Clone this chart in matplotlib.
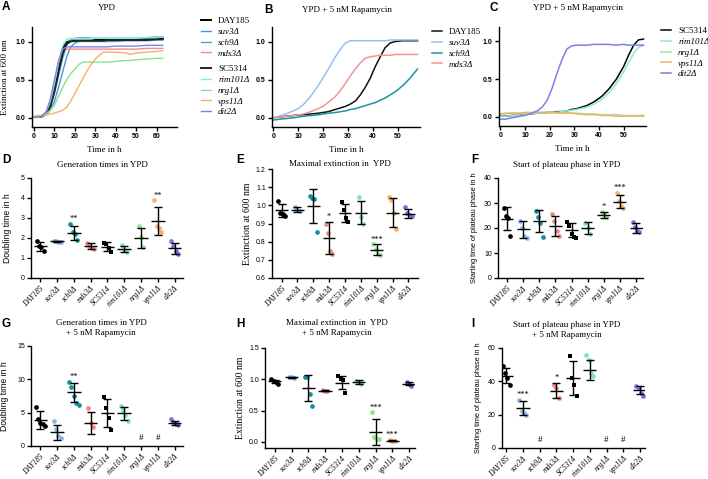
import matplotlib.pyplot as plt
import numpy as np
import matplotlib.transforms as mtransforms

W, H = 708, 479
SERIF = 'Liberation Serif'
SANS = 'Liberation Sans'

strains = ['DAY185', 'suv3Δ', 'sch9Δ', 'mds3Δ', 'SC5314', 'rim101Δ', 'nrg1Δ', 'vps11Δ', 'dit2Δ']
wild_types = ['DAY185', 'SC5314']

# ---- growth curves (optical density at 600 nm) ----
time_a = [0, 2, 4, 6, 8, 10, 12, 14, 16, 18, 20, 22, 24, 26, 28, 30, 32, 34, 36, 40, 45, 47, 50, 55, 60, 63]
a_day185 = [.01, .01, .02, .07, .20, .42, .68, .90, .99, 1.01, 1.01, 1.01, 1.01, 1.01, 1.01, 1.02, 1.02, 1.02, 1.02, 1.02, 1.02, 1.02, 1.02, 1.03, 1.03, 1.04]
a_suv3 = [.01, .01, .02, .04, .10, .22, .40, .60, .80, .93, .98, 1.00, 1.00, 1.00, 1.00, 1.00, 1.00, 1.00, 1.00, 1.00, 1.01, 1.01, 1.01, 1.01, 1.02, 1.02]
a_sch9 = [.01, .01, .02, .05, .15, .32, .55, .78, .95, 1.02, 1.04, 1.05, 1.05, 1.05, 1.05, 1.05, 1.05, 1.05, 1.05, 1.05, 1.05, 1.05, 1.05, 1.05, 1.06, 1.06]
a_mds3 = [.01, .01, .02, .07, .20, .45, .72, .87, .90, .90, .90, .90, .90, .90, .90, .90, .90, .90, .90, .90, .90, .90, .90, .91, .91, .91]
a_sc5314 = [.01, .01, .02, .05, .15, .35, .60, .84, .97, 1.00, 1.01, 1.01, 1.01, 1.01, 1.01, 1.01, 1.01, 1.01, 1.02, 1.02, 1.02, 1.02, 1.02, 1.02, 1.03, 1.03]
a_rim101 = [.01, .01, .02, .08, .22, .45, .72, .95, 1.03, 1.04, 1.04, 1.04, 1.04, 1.04, 1.05, 1.05, 1.05, 1.05, 1.05, 1.05, 1.05, 1.05, 1.05, 1.05, 1.05, 1.06]
a_nrg1 = [.01, .01, .03, .05, .10, .17, .28, .40, .50, .58, .64, .70, .73, .73, .73, .73, .73, .73, .73, .74, .75, .75, .76, .77, .78, .78]
a_vps11 = [.02, .03, .03, .04, .05, .06, .08, .10, .14, .22, .32, .42, .52, .62, .70, .77, .82, .86, .86, .86, .85, .83, .85, .86, .87, .88]
a_dit2 = [.01, .01, .03, .08, .25, .50, .75, .90, .93, .93, .93, .93, .93, .93, .93, .93, .93, .93, .93, .94, .94, .94, .94, .95, .95, .95]

time_b = [0, 2, 5, 8, 10, 12, 15, 18, 20, 22, 25, 27, 29, 31, 33, 35, 37, 39, 41, 43, 45, 47, 49, 52, 55, 58]
b_day185 = [.00, .01, .02, .03, .04, .04, .05, .06, .07, .08, .11, .13, .15, .18, .22, .30, .40, .52, .67, .80, .92, .98, 1.00, 1.01, 1.01, 1.01]
b_suv3 = [.00, .02, .05, .09, .12, .17, .28, .42, .52, .63, .80, .90, .98, 1.01, 1.01, 1.01, 1.01, 1.01, 1.01, 1.01, 1.01, 1.02, 1.02, 1.02, 1.02, 1.02]
b_sch9 = [-.03, -.02, -.01, .00, .01, .02, .03, .04, .05, .06, .07, .08, .09, .11, .12, .14, .16, .18, .20, .23, .26, .30, .34, .42, .52, .64]
b_mds3 = [.00, .01, .02, .03, .04, .05, .08, .12, .15, .20, .28, .36, .45, .55, .64, .72, .78, .80, .81, .82, .82, .82, .83, .83, .83, .83]

time_c = [0, 2, 5, 8, 10, 12, 15, 17, 19, 21, 23, 25, 27, 29, 31, 35, 38, 41, 44, 47, 50, 52, 54, 56, 58]
c_sc5314 = [.01, .01, .02, .02, .03, .04, .05, .05, .06, .06, .07, .07, .08, .10, .11, .15, .20, .27, .37, .50, .67, .82, .95, 1.02, 1.03]
c_rim101 = [.01, .01, .02, .02, .03, .04, .05, .05, .06, .06, .06, .07, .08, .09, .10, .13, .17, .23, .32, .44, .60, .72, .84, .92, .95]
c_nrg1 = [.04, .04, .05, .05, .05, .05, .06, .06, .06, .06, .06, .06, .05, .05, .05, .04, .04, .03, .03, .03, .02, .02, .02, .02, .02]
c_vps11 = [.04, .05, .05, .05, .06, .06, .06, .06, .06, .06, .05, .05, .05, .05, .04, .03, .03, .02, .02, .01, .01, .01, .01, .01, .01]
c_dit2 = [-.03, -.03, -.01, .01, .02, .04, .08, .13, .22, .38, .58, .76, .90, .94, .95, .95, .96, .96, .96, .95, .96, .95, .95, .95, .95]

# ---- scatter panels: replicate values, mean, SD, significance ----
d_points = [[1.87, 1.6, 1.55, 1.33], [1.85, 1.83, 1.82, 1.8], [2.7, 2.3, 2.2, 1.9], [1.75, 1.6, 1.5, 1.45],
            [1.75, 1.7, 1.5, 1.3], [1.65, 1.42, 1.3], [2.6, 2.05, 1.55], [3.88, 2.6, 2.5, 2.3], [1.85, 1.6, 1.35, 1.2]]
d_mean = [1.59, 1.83, 2.25, 1.58, 1.57, 1.43, 2.0, 2.83, 1.48]
d_sd = [0.23, 0.03, 0.33, 0.15, 0.22, 0.15, 0.52, 0.7, 0.28]
d_sig = ['', '', '**', '', '', '', '', '**', '']

e_points = [[1.025, 0.96, 0.95, 0.94], [0.99, 0.975, 0.97], [1.05, 1.04, 1.035, 0.855], [0.9, 0.85, 0.75, 0.73],
            [1.02, 0.975, 0.93, 0.91], [1.045, 0.935, 0.9], [0.785, 0.76, 0.73, 0.725], [1.045, 1.03, 0.96, 0.87], [0.99, 0.96, 0.945, 0.94]]
e_mean = [0.972, 0.977, 0.995, 0.82, 0.96, 0.96, 0.755, 0.96, 0.955]
e_sd = [0.035, 0.012, 0.094, 0.09, 0.05, 0.063, 0.03, 0.08, 0.025]
e_sig = ['', '', '', '*', '', '', '***', '', '']

f_points = [[28, 25, 24, 17], [23, 20, 17, 16], [27, 24.5, 22, 16.5], [25.5, 23, 19, 17],
            [22.5, 21, 17.5, 16.5, 16], [22, 20, 17.5], [26.5, 25.5, 24.5], [34, 31, 29, 28], [22.5, 20.5, 19, 18.5]]
f_mean = [23.8, 19.5, 22.7, 21.0, 19.3, 20.0, 25.3, 30.6, 20.0]
f_sd = [4.6, 3.5, 4.4, 4.0, 2.8, 2.3, 1.3, 2.5, 2.0]
f_sig = ['', '', '', '', '', '', '*', '***', '']

g_points = [[5.8, 4.0, 3.5, 3.3, 3.0], [3.8, 2.5, 1.5, 1.2], [9.6, 8.9, 7.5, 6.4, 6.2], [5.7, 3.5, 2.8],
            [7.4, 5.7, 4.2, 2.4], [6.0, 5.4, 4.6, 3.7], [], [], [4.0, 3.6, 3.3, 3.1]]
g_mean = [3.9, 2.05, 8.05, 3.5, 5.0, 4.9, None, None, 3.45]
g_sd = [1.3, 1.1, 1.45, 1.65, 2.1, 0.95, None, None, 0.3]
g_sig = ['', '', '**', '', '', '', '#', '#', '']

h_points = [[1.0, 0.97, 0.95, 0.93], [1.035, 1.03, 1.025], [1.04, 1.03, 0.77, 0.58], [0.83, 0.82, 0.81],
            [1.05, 1.0, 0.99, 0.78], [0.98, 0.96, 0.93], [0.47, 0.08, 0.05, 0.04], [0.03, 0.02, 0.01], [0.96, 0.93, 0.9]]
h_mean = [0.965, 1.03, 0.86, 0.82, 0.945, 0.955, 0.16, 0.02, 0.93]
h_sd = [0.03, 0.008, 0.21, 0.015, 0.1, 0.03, 0.21, 0.01, 0.025]
h_sig = ['', '', '', '', '', '', '***', '***', '']

i_points = [[49, 45, 42, 38], [29, 22, 21, 20], [], [38, 36, 30], [55, 42, 38, 31], [56, 53, 45, 43], [], [], [37, 36, 33, 31]]
i_mean = [43.5, 24.0, None, 34.5, 42.0, 47.0, None, None, 35.0]
i_sd = [4.5, 4.0, None, 4.5, 10.0, 6.0, None, None, 2.5]
i_sig = ['', '***', '#', '*', '', '', '#', '#', '']

dot_colors = {'DAY185': '#000000', 'suv3Δ': '#8cb6ea', 'sch9Δ': '#14909f', 'mds3Δ': '#ee8a8a', 'SC5314': '#000000',
              'rim101Δ': '#7fe3c6', 'nrg1Δ': '#8ee68e', 'vps11Δ': '#f6b266', 'dit2Δ': '#7474dc'}


fig = plt.figure(figsize=(W / 100, H / 100), dpi=100)


def px_axes(x0, y0, x1, y1):
    return fig.add_axes([x0 / W, 1 - y1 / H, (x1 - x0) / W, (y1 - y0) / H])


def px_text(x, y, s, **kw):
    fig.text(x / W, 1 - y / H, s, **kw)


def style_axes(ax, bold_ticks):
    for side in ['top', 'right']:
        ax.spines[side].set_visible(False)
    for side in ['left', 'bottom']:
        ax.spines[side].set_linewidth(1.0)
    ax.tick_params(length=3, width=1.0, pad=1.5, labelsize=5)
    for lab in ax.get_yticklabels() + ax.get_xticklabels():
        lab.set_family(SANS)
        if bold_ticks:
            lab.set_fontweight('bold')


def curve_panel(ax, xlim, xticks):
    ax.set_xlim(*xlim)
    ax.set_ylim(-0.12, 1.19)
    ax.set_xticks(xticks)
    ax.set_yticks([0.0, 0.5, 1.0])
    ax.set_yticklabels(['0.0', '0.5', '1.0'])
    style_axes(ax, True)


def add_legend(ax, handles, labels, x, y):
    leg = ax.legend(handles, labels, loc='upper left', bbox_to_anchor=(x / W, 1 - y / H),
                    bbox_transform=fig.transFigure, frameon=False, borderpad=0, borderaxespad=0,
                    handlelength=1.1, handletextpad=0.8, labelspacing=0.27,
                    prop={'family': SERIF, 'size': 6.5})
    for txt in leg.get_texts():
        if txt.get_text() not in wild_types:
            txt.set_style('italic')
    return leg


def scatter_panel(ax, points, mean, sd, sig, ylim, yticks, xlim):
    trans = mtransforms.blended_transform_factory(ax.transData, ax.transAxes)
    for i, s in enumerate(strains):
        if sig[i] == '#':
            ax.text(i, 0.085, '#', transform=trans, ha='center', va='center',
                    fontsize=6.5, family=SERIF)
            continue
        pts = points[i]
        n = len(pts)
        offs = (np.arange(n) - (n - 1) / 2) * 0.14
        marker = 's' if s == 'SC5314' else 'o'
        ax.plot(i + offs, pts, ls='none', marker=marker, ms=3.4, mew=0,
                color=dot_colors[s], zorder=2)
        ax.hlines(mean[i], i - 0.4, i + 0.4, color='k', lw=1.0, zorder=3)
        ax.errorbar(i, mean[i], yerr=sd[i], fmt='none', ecolor='k', elinewidth=1.0,
                    capsize=2.8, capthick=1.0, zorder=3)
        if sig[i]:
            top = max(max(pts), mean[i] + sd[i])
            ax.annotate(sig[i], (i, top), xytext=(0, 0.5), textcoords='offset points',
                        ha='center', va='bottom', fontsize=6, family=SERIF)
    ax.set_xlim(*xlim)
    ax.set_ylim(*ylim)
    ax.set_yticks(yticks)
    ax.set_xticks(range(len(strains)))
    ax.set_xticklabels(strains)
    style_axes(ax, False)
    for lab in ax.get_xticklabels():
        lab.set_family(SERIF)
        lab.set_style('italic')
        lab.set_fontsize(5.5)
        lab.set_rotation(45)
        lab.set_ha('right')
        lab.set_rotation_mode('anchor')


# ---------------- A ----------------
ax_a = px_axes(32, 27, 177, 127)
a_series = [(a_day185, '#000000', 'DAY185'), (a_suv3, '#4d94e2', 'suv3Δ'), (a_sch9, '#3db1c2', 'sch9Δ'),
            (a_mds3, '#f08c8c', 'mds3Δ'), (a_sc5314, '#222222', 'SC5314'), (a_rim101, '#88ecd2', 'rim101Δ'),
            (a_nrg1, '#86e486', 'nrg1Δ'), (a_vps11, '#f6b066', 'vps11Δ'), (a_dit2, '#8282e6', 'dit2Δ')]
handles = []
for vals, col, name in a_series:
    lw = 1.4 if name in wild_types else 1.0
    ln, = ax_a.plot(time_a, vals, color=col, lw=lw, label=name)
    handles.append(ln)
curve_panel(ax_a, (-1, 70), range(0, 61, 10))
leg1 = add_legend(ax_a, handles[:4], [h.get_label() for h in handles[:4]], 201, 17)
ax_a.add_artist(leg1)
add_legend(ax_a, handles[4:], [h.get_label() for h in handles[4:]], 201, 65)

# ---------------- B ----------------
ax_b = px_axes(272, 27, 420, 127)
b_series = [(b_day185, '#111111', 'DAY185'), (b_suv3, '#93c0f2', 'suv3Δ'),
            (b_sch9, '#1b95a5', 'sch9Δ'), (b_mds3, '#f29494', 'mds3Δ')]
handles = []
for vals, col, name in b_series:
    ln, = ax_b.plot(time_b, vals, color=col, lw=1.1, label=name)
    handles.append(ln)
curve_panel(ax_b, (-0.5, 59), range(0, 51, 10))
add_legend(ax_b, handles, [h.get_label() for h in handles], 432, 28)

# ---------------- C ----------------
ax_c = px_axes(499, 27, 646, 126)
c_series = [(c_sc5314, '#000000', 'SC5314'), (c_rim101, '#88ecd2', 'rim101Δ'), (c_nrg1, '#9ee69e', 'nrg1Δ'),
            (c_vps11, '#f6b066', 'vps11Δ'), (c_dit2, '#7f7fea', 'dit2Δ')]
handles = []
for vals, col, name in c_series:
    ln, = ax_c.plot(time_c, vals, color=col, lw=1.1, label=name)
    handles.append(ln)
curve_panel(ax_c, (-0.5, 59), range(0, 51, 10))
add_legend(ax_c, handles, [h.get_label() for h in handles], 661, 27)

for ax in [ax_a, ax_b, ax_c]:
    ax.set_xlabel('Time in h', family=SERIF, fontsize=6.5, labelpad=4)
ax_a.set_ylabel('Extinction at 600 nm', family=SERIF, fontsize=6.5, labelpad=5)

# ---------------- D - I ----------------
ax_d = px_axes(31, 178, 183, 278)
scatter_panel(ax_d, d_points, d_mean, d_sd, d_sig, (0, 5), range(0, 6), (-0.55, 8.5))
ax_e = px_axes(272, 169, 418, 278)
scatter_panel(ax_e, e_points, e_mean, e_sd, e_sig, (0.6, 1.2), np.arange(0.6, 1.21, 0.1), (-0.6, 8.6))
ax_e.set_yticklabels(['0.6', '0.7', '0.8', '0.9', '1.0', '1.1', '1.2'])
ax_f = px_axes(498, 178, 643, 278)
scatter_panel(ax_f, f_points, f_mean, f_sd, f_sig, (0, 40), range(0, 41, 10), (-0.56, 8.43))
ax_g = px_axes(31, 346, 183, 446)
scatter_panel(ax_g, g_points, g_mean, g_sd, g_sig, (0, 15), range(0, 16, 5), (-0.55, 8.5))
ax_h = px_axes(265, 348, 415, 448)
scatter_panel(ax_h, h_points, h_mean, h_sd, h_sig, (-0.1, 1.5), [0.0, 0.5, 1.0, 1.5], (-0.58, 8.35))
ax_h.set_yticklabels(['0.0', '0.5', '1.0', '1.5'])
ax_i = px_axes(502, 348, 645, 448)
scatter_panel(ax_i, i_points, i_mean, i_sd, i_sig, (0, 60), range(0, 61, 20), (-0.25, 8.3))

ax_d.set_ylabel('Doubling time in h', family=SANS, fontsize=6.2, labelpad=6)
ax_g.set_ylabel('Doubling time in h', family=SANS, fontsize=6.2, labelpad=6)
ax_e.set_ylabel('Extinction at 600 nm', family=SERIF, fontsize=7, labelpad=3)
ax_h.set_ylabel('Extinction at 600 nm', family=SERIF, fontsize=7, labelpad=3)
ax_f.set_ylabel('Starting time of plateau phase in h', family=SANS, fontsize=5.3, labelpad=4)
ax_i.set_ylabel('Starting time of plateau phase in h', family=SANS, fontsize=5.3, labelpad=4)

# ---------------- titles and panel letters ----------------
title_kw = dict(family=SERIF, fontsize=6.5, ha='center', va='center')
px_text(107, 7.5, 'YPD', **title_kw)
px_text(347, 10, 'YPD + 5 nM Rapamycin', **title_kw)
px_text(578, 8, 'YPD + 5 nM Rapamycin', **title_kw)
px_text(102, 165, 'Generation times in YPD', **title_kw)
px_text(340, 164, 'Maximal extinction in  YPD', **title_kw)
px_text(567, 165, 'Start of plateau phase in YPD', **title_kw)
px_text(101, 323, 'Generation times in YPD', **title_kw)
px_text(101, 333, '+ 5 nM Rapamycin', **title_kw)
px_text(337, 323, 'Maximal extinction in  YPD', **title_kw)
px_text(337, 333, '+ 5 nM Rapamycin', **title_kw)
px_text(567, 325, 'Start of plateau phase in YPD', **title_kw)
px_text(567, 335, '+ 5 nM Rapamycin', **title_kw)

letter_kw = dict(family=SANS, fontsize=8.5, fontweight='bold', ha='left', va='center')
for letter, x, y in [('A', 2, 7), ('B', 264, 10), ('C', 489, 8), ('D', 2, 160), ('E', 236, 160),
                     ('F', 471, 160), ('G', 2, 324), ('H', 236, 324), ('I', 471, 324)]:
    px_text(x, y, letter, **letter_kw)

fig.savefig('out.png', dpi=100)
